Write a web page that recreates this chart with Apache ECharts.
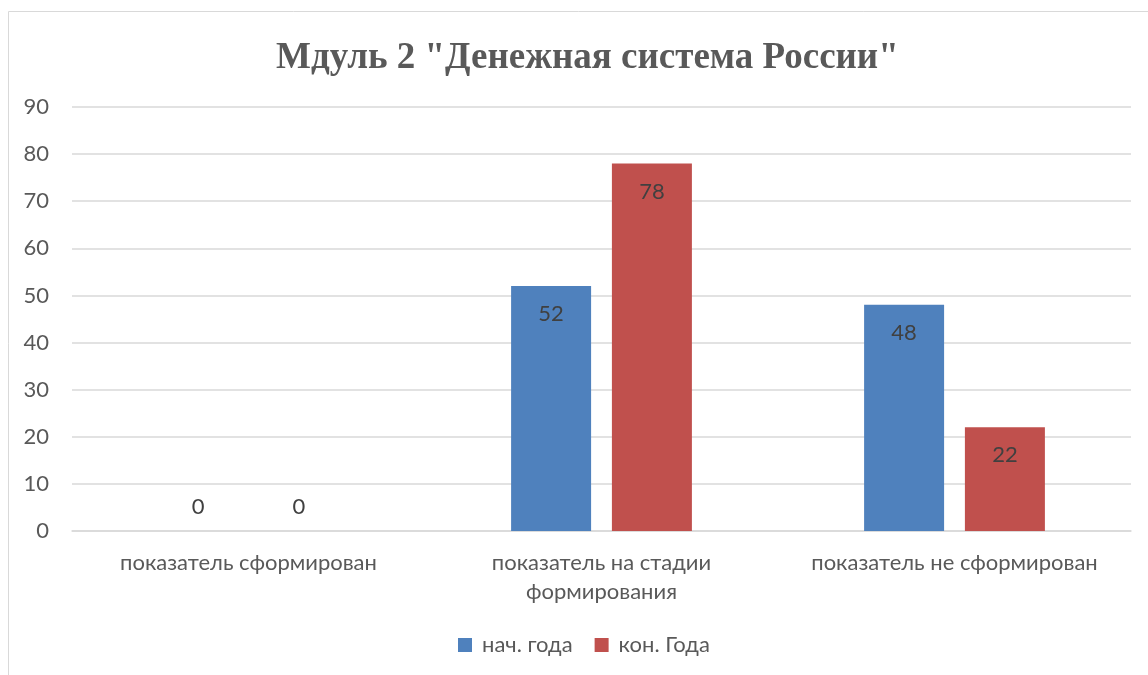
<!DOCTYPE html>
<html><head><meta charset="utf-8">
<script src="https://cdn.jsdelivr.net/npm/echarts@6/dist/echarts.min.js"></script>
<style>html,body{margin:0;padding:0;background:#fff}#c{width:1148px;height:675px}</style>
</head><body><div id="c"></div>
<script>
const titleText = 'Мдуль 2 "Денежная система России"';
const categories = ['показатель сформирован', 'показатель на стадии\nформирования', 'показатель не сформирован'];
const seriesNames = ['нач. года', 'кон. Года'];
const startValues = [0, 52, 48];
const endValues = [0, 78, 22];
const yTicks = [0, 90, 10];

const chart = echarts.init(document.getElementById('c'));
function mk(vals) {
  return vals.map(v => v === 0
    ? { value: v, label: { position: 'top', distance: 13 } }
    : v);
}
const labelStyle = { show: true, position: 'insideTop', distance: 17, color: '#404040', fontSize: 22, fontFamily: 'Lato' };
chart.setOption({
  animation: false,
  graphic: [{ type: 'rect', shape: { x: 8.5, y: 11.5, width: 1200, height: 700 }, style: { fill: 'none', stroke: '#D9D9D9', lineWidth: 1 }, silent: true }],
  title: { text: titleText, left: 271, top: 35, textStyle: { fontFamily: 'Liberation Serif', fontWeight: 'bold', fontSize: 37, color: '#595959' } },
  grid: { left: 72, right: 17, top: 107, bottom: 144 },
  legend: { bottom: 14, left: 453, itemWidth: 14, itemHeight: 14, itemGap: 22, icon: 'rect',
    textStyle: { fontFamily: 'Lato', fontSize: 22, color: '#595959', padding: [0, 0, 0, 5] } },
  xAxis: { type: 'category', data: categories,
    axisLine: { lineStyle: { color: '#D9D9D9', width: 1.5 } }, axisTick: { show: false },
    axisLabel: { fontFamily: 'Lato', fontSize: 22, color: '#595959', margin: 17, lineHeight: 29, interval: 0 } },
  yAxis: { type: 'value', min: yTicks[0], max: yTicks[1], interval: yTicks[2],
    axisLine: { show: false }, axisTick: { show: false },
    splitLine: { lineStyle: { color: '#D9D9D9', width: 1.5 } },
    axisLabel: { fontFamily: 'Lato', fontSize: 22, color: '#595959', margin: 23 } },
  series: [
    { name: seriesNames[0], type: 'bar', data: mk(startValues), barWidth: 80, barGap: '26%', itemStyle: { color: '#4F81BD' }, label: labelStyle },
    { name: seriesNames[1], type: 'bar', data: mk(endValues), barWidth: 80, itemStyle: { color: '#C0504D' }, label: labelStyle }
  ]
});
</script></body></html>
